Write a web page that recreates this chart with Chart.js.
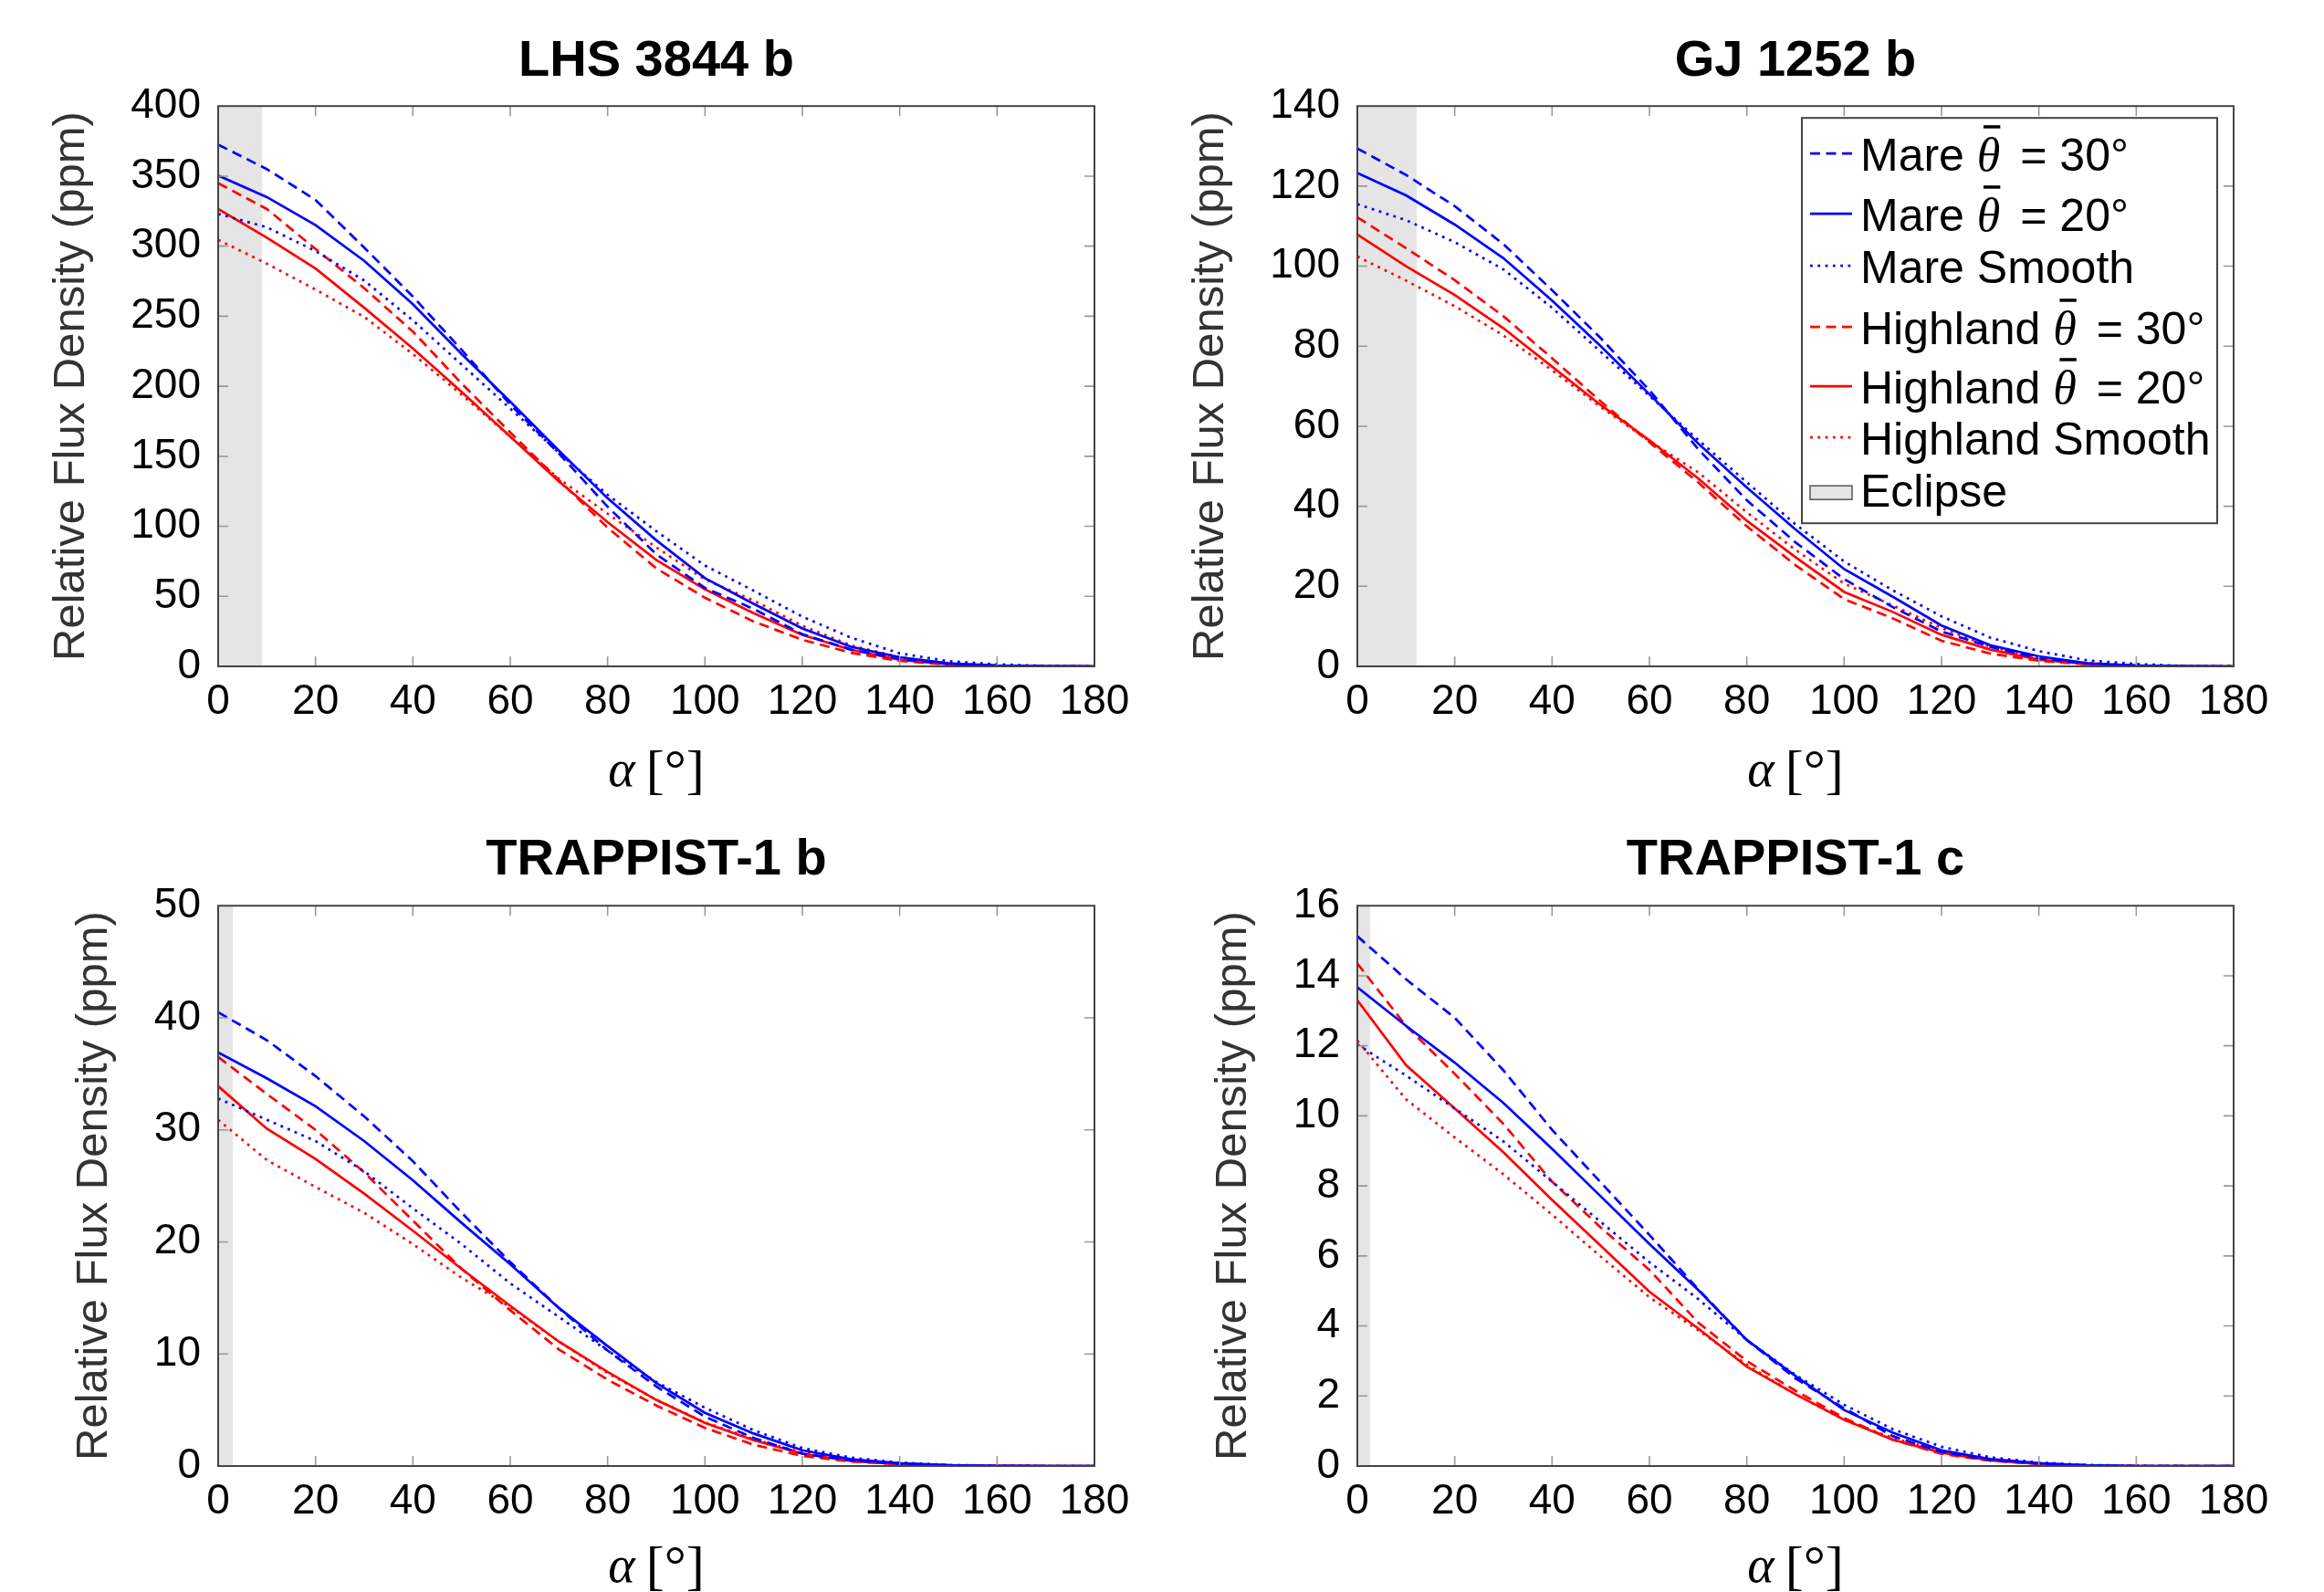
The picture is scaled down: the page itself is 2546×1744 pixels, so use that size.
<!DOCTYPE html>
<html>
<head>
<meta charset="utf-8">
<script src="https://cdn.jsdelivr.net/npm/chart.js@4.4.1/dist/chart.umd.min.js"></script>
<style>
  html, body { margin: 0; background: #fff; width: 2546px; height: 1744px; overflow: hidden; }
  body { position: relative; }
  canvas { position: absolute; }
</style>
</head>
<body>
<script>
// phase angle samples (deg)
const ANGLES = [0, 10, 20, 30, 40, 50, 60, 70, 80, 90, 100, 110, 120, 130, 140, 150, 160, 170, 180];

const PANEL_TITLES = ['LHS 3844 b', 'GJ 1252 b', 'TRAPPIST-1 b', 'TRAPPIST-1 c'];
const Y_MAX = [400, 140, 50, 16];
const Y_STEP = [50, 20, 10, 2];
const ECLIPSE_END = [9.1, 12.2, 3.0, 2.7];

const SERIES_LABELS = ['Mare θ̄ = 30°', 'Mare θ̄ = 20°', 'Mare Smooth',
                       'Highland θ̄ = 30°', 'Highland θ̄ = 20°', 'Highland Smooth'];

// LHS 3844 b
const lhsMare30     = [372.5, 355, 333, 299, 264, 226, 187, 152, 114, 80, 56, 41, 23, 12, 5.4, 1.8, 0.5, 0.1, 0];
const lhsMare20     = [350.5, 335, 315, 289.5, 258.5, 223, 189, 154, 120, 90, 63, 44.6, 27, 14, 6.5, 2.2, 0.6, 0.1, 0];
const lhsMareSmooth = [323, 313.5, 296.5, 275.5, 247, 215.5, 184, 152.5, 122.5, 96.5, 72, 54, 35.5, 20.5, 9.3, 3.7, 1.5, 0.3, 0];
const lhsHigh30     = [345, 326.5, 298, 270, 239, 202, 167, 133, 99, 70, 49, 32, 19, 9.7, 3.9, 1.2, 0.3, 0.1, 0];
const lhsHigh20     = [326.5, 306, 284, 256, 227, 196, 164, 132, 103, 76, 55, 38, 22.5, 11.9, 4.7, 1.5, 0.4, 0.1, 0];
const lhsHighSmooth = [304.5, 287.5, 269, 249.5, 223, 194, 164, 134, 109, 85, 62, 47, 29, 15, 6.5, 2, 0.6, 0.1, 0];

// GJ 1252 b
const gjMare30     = [129.4, 122.8, 115, 105.5, 94, 82, 69, 54.3, 41.5, 31, 21.8, 14.8, 8.7, 4.9, 2, 0.7, 0.2, 0.05, 0];
const gjMare20     = [123.3, 117.7, 110.4, 102, 91.4, 80, 68, 55.7, 44.7, 34.2, 24.3, 17.4, 10.2, 5.3, 2.5, 0.8, 0.2, 0.05, 0];
const gjMareSmooth = [115.5, 111.5, 106, 99.2, 89.6, 78.6, 67.6, 56.6, 46, 35.5, 26.2, 19, 12.5, 7.2, 3.8, 1.5, 0.6, 0.1, 0];
const gjHigh30     = [112.2, 104.5, 96.5, 87.5, 77, 66.2, 56, 46, 35, 25.3, 16.8, 12, 6.4, 3.2, 1.4, 0.5, 0.1, 0.02, 0];
const gjHigh20     = [107.9, 100, 92.8, 84.5, 74.9, 65.3, 56.5, 47, 36.4, 27.3, 18.6, 13.6, 7.9, 4.2, 1.7, 0.6, 0.15, 0.03, 0];
const gjHighSmooth = [102.4, 96.4, 90, 82.7, 74, 64.8, 56.3, 48.5, 38.5, 29.1, 20.7, 15.2, 9.6, 4.9, 2.2, 0.8, 0.2, 0.05, 0];

// TRAPPIST-1 b
const t1bMare30     = [40.5, 38, 34.8, 31.2, 27.2, 22.6, 18.2, 14.1, 10.3, 7.1, 4.4, 2.5, 1.1, 0.5, 0.2, 0.07, 0.02, 0, 0];
const t1bMare20     = [36.9, 34.6, 32.1, 29, 25.5, 21.7, 18, 14.1, 10.7, 7.4, 4.75, 2.9, 1.4, 0.6, 0.25, 0.08, 0.02, 0, 0];
const t1bMareSmooth = [32.8, 30.9, 29, 26.3, 23, 19.8, 16.3, 13.3, 10.3, 7.5, 5.2, 3.2, 1.6, 0.75, 0.3, 0.1, 0.03, 0, 0];
const t1bHigh30     = [36.5, 33.2, 30, 26.2, 21.9, 17.6, 13.9, 10.4, 7.7, 5.4, 3.4, 1.9, 0.9, 0.4, 0.15, 0.05, 0.01, 0, 0];
const t1bHigh20     = [33.9, 30.1, 27.4, 24.3, 21, 17.6, 14.3, 11.1, 8.4, 5.9, 3.85, 2.3, 1.1, 0.45, 0.17, 0.05, 0.01, 0, 0];
const t1bHighSmooth = [30.9, 27.3, 24.9, 22.6, 19.8, 16.8, 14.2, 11.1, 8.3, 5.9, 3.9, 2.4, 1.2, 0.5, 0.2, 0.06, 0.01, 0, 0];

// TRAPPIST-1 c
const t1cMare30     = [15.13, 13.9, 12.8, 11.3, 9.6, 8.1, 6.6, 5.05, 3.6, 2.5, 1.65, 0.85, 0.4, 0.18, 0.07, 0.02, 0, 0, 0];
const t1cMare20     = [13.67, 12.57, 11.52, 10.37, 9.06, 7.7, 6.34, 5.03, 3.6, 2.57, 1.6, 0.95, 0.45, 0.2, 0.08, 0.02, 0, 0, 0];
const t1cMareSmooth = [12.04, 11.15, 10.21, 9.27, 8.12, 6.97, 5.82, 4.77, 3.6, 2.6, 1.75, 1.05, 0.55, 0.25, 0.1, 0.03, 0.01, 0, 0];
const t1cHigh30     = [14.35, 12.57, 11.2, 9.77, 8.12, 6.81, 5.6, 4.1, 3.0, 2.15, 1.37, 0.75, 0.35, 0.15, 0.06, 0.02, 0, 0, 0];
const t1cHigh20     = [13.3, 11.45, 10.21, 8.96, 7.6, 6.29, 4.98, 3.93, 2.84, 2.05, 1.32, 0.75, 0.38, 0.16, 0.06, 0.02, 0, 0, 0];
const t1cHighSmooth = [12.15, 10.47, 9.38, 8.33, 7.18, 5.98, 4.82, 3.88, 2.89, 2.05, 1.32, 0.8, 0.42, 0.18, 0.07, 0.02, 0, 0, 0];

const PANEL_SERIES = [
  [lhsMare30, lhsMare20, lhsMareSmooth, lhsHigh30, lhsHigh20, lhsHighSmooth],
  [gjMare30, gjMare20, gjMareSmooth, gjHigh30, gjHigh20, gjHighSmooth],
  [t1bMare30, t1bMare20, t1bMareSmooth, t1bHigh30, t1bHigh20, t1bHighSmooth],
  [t1cMare30, t1cMare20, t1cMareSmooth, t1cHigh30, t1cHigh20, t1cHighSmooth]
];

// line styles: blue = mare, red = highland; dashed / solid / dotted
const DASHED = [11, 6.5];
const DOTTED = [2.8, 5.5];
const STYLES = [
  { color: '#0000ff', dash: DASHED },
  { color: '#0000ff', dash: [] },
  { color: '#0000ff', dash: DOTTED },
  { color: '#ff0000', dash: DASHED },
  { color: '#ff0000', dash: [] },
  { color: '#ff0000', dash: DOTTED }
];
const ECLIPSE_FILL = '#e5e5e5';
const LINE_W = 2.7;

Chart.defaults.font.family = "'Liberation Sans', Arial, sans-serif";
Chart.defaults.color = '#000';

// canvas boxes and per-panel layout
const BOXES = [
  { left: 0,    top: 0,   w: 1240, h: 900, padRight: 41, axisH: 170, titleTop: 34, titleBottom: 16, yTitlePad: 49, xTitleOff: 131 },
  { left: 1248, top: 0,   w: 1298, h: 900, padRight: 99, axisH: 170, titleTop: 34, titleBottom: 16, yTitlePad: 49, xTitleOff: 131 },
  { left: 0,    top: 872, w: 1240, h: 872, padRight: 41, axisH: 138, titleTop: 37, titleBottom: 17, yTitlePad: 74, xTitleOff: 127 },
  { left: 1248, top: 872, w: 1298, h: 872, padRight: 99, axisH: 138, titleTop: 37, titleBottom: 17, yTitlePad: 74, xTitleOff: 127 }
];

// plot frame with inward ticks on all four sides
const framePlugin = {
  id: 'frame',
  afterDatasetsDraw(chart) {
    const { ctx, chartArea: a, scales: { x, y } } = chart;
    const len = 11;
    ctx.save();
    ctx.strokeStyle = '#999';
    ctx.lineWidth = 1.6;
    ctx.beginPath();
    x.ticks.forEach(t => {
      if (t.value <= x.min || t.value >= x.max) return;
      const px = x.getPixelForValue(t.value);
      ctx.moveTo(px, a.bottom); ctx.lineTo(px, a.bottom - len);
      ctx.moveTo(px, a.top); ctx.lineTo(px, a.top + len);
    });
    y.ticks.forEach(t => {
      if (t.value <= y.min || t.value >= y.max) return;
      const py = y.getPixelForValue(t.value);
      ctx.moveTo(a.left, py); ctx.lineTo(a.left + len, py);
      ctx.moveTo(a.right, py); ctx.lineTo(a.right - len, py);
    });
    ctx.stroke();
    ctx.strokeStyle = '#444';
    ctx.lineWidth = 2;
    ctx.strokeRect(a.left, a.top, a.right - a.left, a.bottom - a.top);
    ctx.restore();
  }
};

// x axis label: italic alpha followed by upright [°]
const alphaTitlePlugin = {
  id: 'alphaTitle',
  afterDraw(chart, args, opts) {
    const { ctx, chartArea: a } = chart;
    const base = a.bottom + opts.offset;
    const fItal = "italic 56px 'Liberation Serif'";
    const fUp = "60px 'Liberation Serif'";
    ctx.save();
    ctx.fillStyle = '#000';
    ctx.textBaseline = 'alphabetic';
    ctx.font = fItal;
    const wA = ctx.measureText('α').width;
    ctx.font = fUp;
    const rest = '\u2009[°]';
    const wR = ctx.measureText(rest).width;
    const x0 = (a.left + a.right) / 2 - (wA + wR) / 2;
    ctx.font = fItal;
    ctx.fillText('α', x0, base);
    ctx.font = fUp;
    ctx.fillText(rest, x0 + wA, base + 2);
    ctx.restore();
  }
};

// legend box drawn inside the chart area (only on GJ 1252 b)
const legendPlugin = {
  id: 'boxLegend',
  afterDraw(chart) {
    const { ctx, chartArea: a } = chart;
    const w = 455, h = 444;
    const left = a.right - 18 - w, top = a.top + 13;
    const baselines = [58, 124, 181, 248, 313, 369, 426];
    ctx.save();
    ctx.fillStyle = '#fff';
    ctx.fillRect(left, top, w, h);
    ctx.strokeStyle = '#444';
    ctx.lineWidth = 2;
    ctx.strokeRect(left, top, w, h);

    chart.data.datasets.forEach((ds, i) => {
      const base = top + baselines[i];
      if (ds.isEclipse) {
        ctx.fillStyle = ECLIPSE_FILL;
        ctx.fillRect(left + 9, base - 23, 46, 15);
        ctx.strokeStyle = '#555';
        ctx.lineWidth = 1.5;
        ctx.strokeRect(left + 9, base - 23, 46, 15);
      } else {
        ctx.strokeStyle = ds.borderColor;
        ctx.lineWidth = LINE_W;
        ctx.setLineDash(ds.borderDash);
        ctx.beginPath();
        ctx.moveTo(left + 9, base - 19);
        ctx.lineTo(left + 55, base - 19);
        ctx.stroke();
        ctx.setLineDash([]);
      }
      // label text; the theta-bar part in italic serif with an overbar
      let tx = left + 64;
      ctx.fillStyle = '#000';
      ctx.textBaseline = 'alphabetic';
      const parts = ds.label.split('θ̄');
      parts.forEach((p, k) => {
        ctx.font = "50px 'Liberation Sans'";
        ctx.fillText(p, tx, base);
        tx += ctx.measureText(p).width;
        if (k < parts.length - 1) {
          ctx.font = "italic 52px 'Liberation Serif'";
          const tw = ctx.measureText('θ').width;
          ctx.fillText('θ', tx, base);
          ctx.fillRect(tx + tw * 0.28, base - 50, tw * 0.72, 3.5);
          tx += tw + 8;
        }
      });
    });
    ctx.restore();
  }
};

function buildDatasets(p) {
  const sets = PANEL_SERIES[p].map((vals, i) => ({
    label: SERIES_LABELS[i],
    data: ANGLES.map((a, k) => ({ x: a, y: vals[k] })),
    borderColor: STYLES[i].color,
    borderDash: STYLES[i].dash,
    borderWidth: LINE_W,
    borderCapStyle: 'butt',
    pointRadius: 0,
    tension: 0,
    fill: false,
    order: 0
  }));
  sets.push({
    label: 'Eclipse',
    isEclipse: true,
    data: [{ x: 0, y: Y_MAX[p] }, { x: ECLIPSE_END[p], y: Y_MAX[p] }],
    borderWidth: 0,
    borderColor: 'rgba(0,0,0,0)',
    backgroundColor: ECLIPSE_FILL,
    pointRadius: 0,
    fill: 'origin',
    order: 1
  });
  return sets;
}

PANEL_TITLES.forEach((title, p) => {
  const b = BOXES[p];
  const canvas = document.createElement('canvas');
  canvas.width = b.w;
  canvas.height = b.h;
  canvas.style.left = b.left + 'px';
  canvas.style.top = b.top + 'px';
  canvas.style.width = b.w + 'px';
  canvas.style.height = b.h + 'px';
  document.body.appendChild(canvas);

  const plugins = [framePlugin, alphaTitlePlugin];
  if (p === 1) plugins.push(legendPlugin);

  new Chart(canvas.getContext('2d'), {
    type: 'line',
    data: { datasets: buildDatasets(p) },
    options: {
      responsive: false,
      animation: false,
      devicePixelRatio: 1,
      layout: { padding: { left: 0, right: b.padRight, top: 0, bottom: 0 } },
      plugins: {
        legend: { display: false },
        tooltip: { enabled: false },
        alphaTitle: { offset: b.xTitleOff },
        title: {
          display: true,
          fullSize: false,
          text: title,
          color: '#000',
          font: { size: 56, weight: 'bold', lineHeight: 1.2 },
          padding: { top: b.titleTop, bottom: b.titleBottom - 1 }
        }
      },
      scales: {
        x: {
          type: 'linear',
          min: 0,
          max: 180,
          grid: { display: false, drawTicks: false },
          border: { display: false },
          ticks: { stepSize: 20, autoSkip: false, maxRotation: 0, padding: 12, color: '#000', font: { size: 46, lineHeight: 1.2 } },
          afterFit: s => { s.height = b.axisH; s.paddingLeft = 0; s.paddingRight = 0; }
        },
        y: {
          min: 0,
          max: Y_MAX[p],
          grid: { display: false, drawTicks: false },
          border: { display: false },
          ticks: { stepSize: Y_STEP[p], autoSkip: false, padding: 19, color: '#000', font: { size: 46, lineHeight: 1.2 } },
          title: {
            display: true,
            text: 'Relative Flux Density (ppm)',
            color: '#333',
            font: { size: 49, lineHeight: 1.2 },
            padding: { top: b.yTitlePad, bottom: 0 }
          },
          afterFit: s => { s.width = 239; s.paddingTop = 0; s.paddingBottom = 0; }
        }
      }
    },
    plugins: plugins
  });
});
</script>
</body>
</html>
